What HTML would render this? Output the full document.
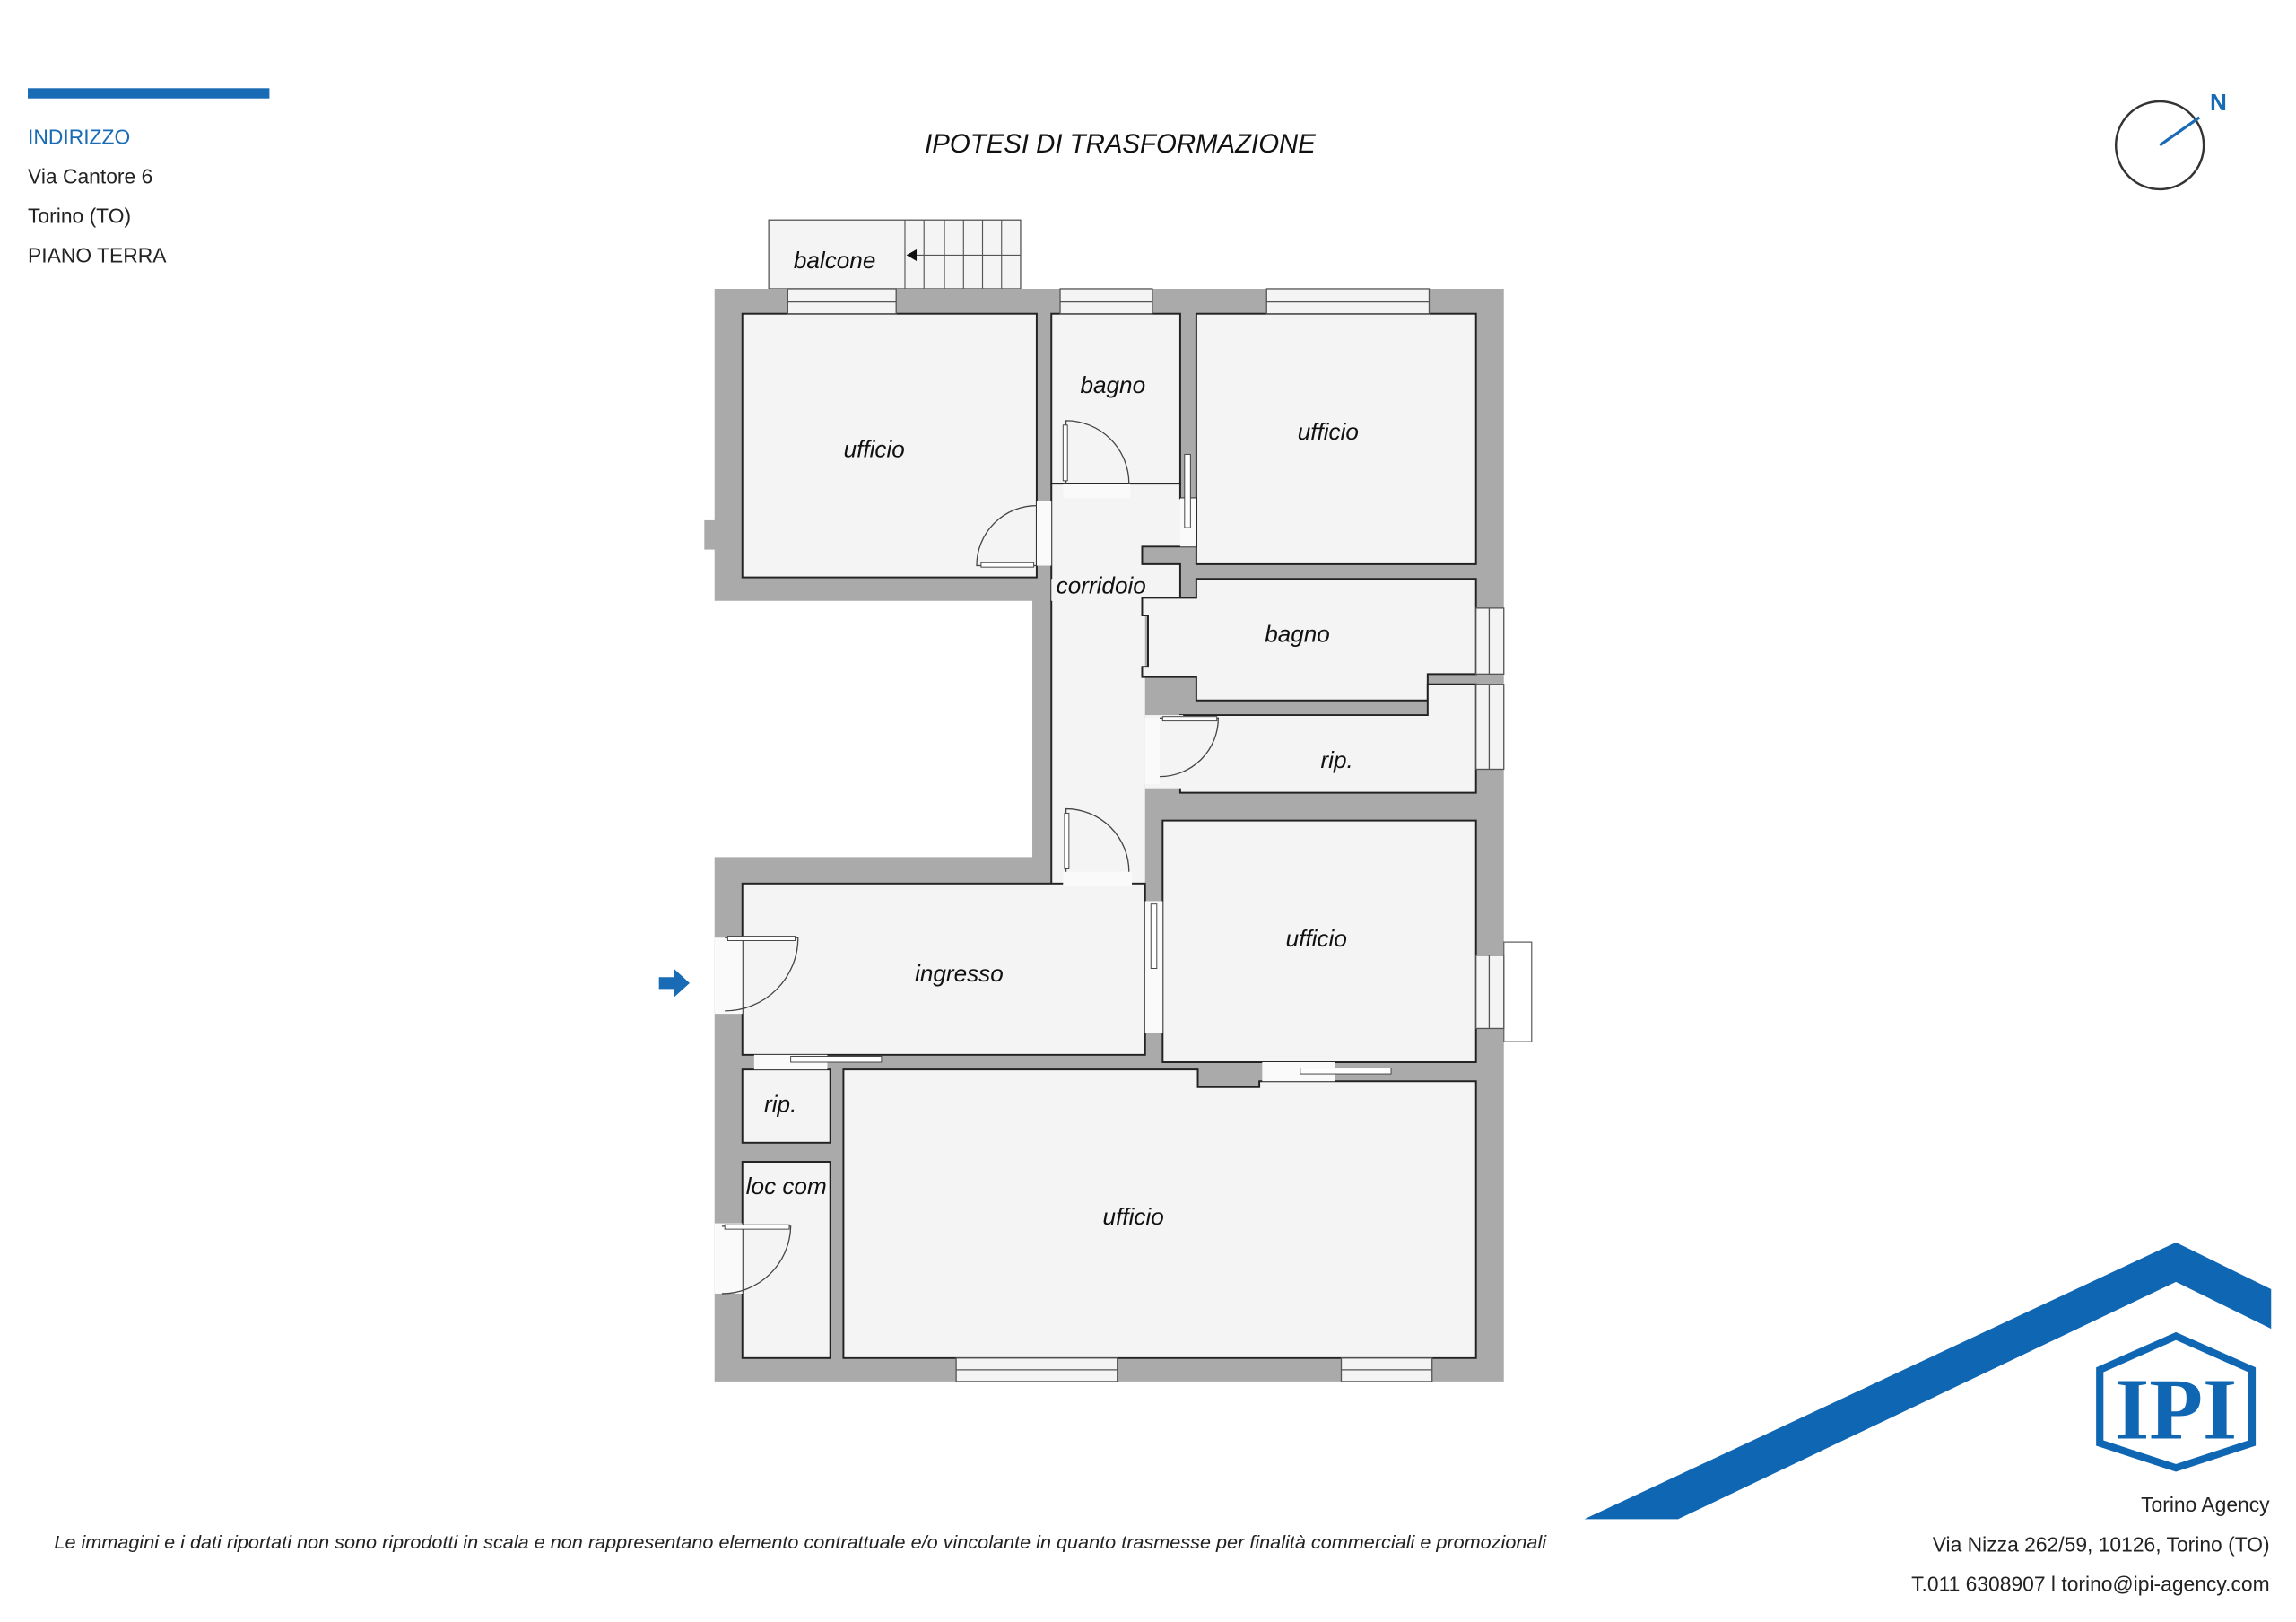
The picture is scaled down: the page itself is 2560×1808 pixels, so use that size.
<!DOCTYPE html>
<html><head><meta charset="utf-8"><style>
html,body{margin:0;padding:0;background:#fff}
svg{display:block}
text{font-family:"Liberation Sans",sans-serif}
.lab{font-style:italic;font-size:16px;fill:#111;text-anchor:middle}
.r{fill:#f4f4f4;stroke:#222;stroke-width:1.2}
.w{fill:#aaaaaa}
.win{fill:#f4f4f4;stroke:#555;stroke-width:0.8}
.gap{fill:#fafafa}
.dr{fill:none;stroke:#444;stroke-width:0.8}
</style></head><body>
<svg width="2560" height="1808" viewBox="0 0 1568 1107" xmlns="http://www.w3.org/2000/svg">
<rect x="0" y="0" width="1568" height="1107" fill="#fff"/>
<rect x="19" y="60" width="165" height="7" fill="#1a6bb5"/>
<text x="19" y="98" font-size="14" fill="#1a6bb5">INDIRIZZO</text>
<text x="19" y="125" font-size="14" fill="#222">Via Cantore 6</text>
<text x="19" y="152" font-size="14" fill="#222">Torino (TO)</text>
<text x="19" y="179" font-size="14" fill="#222">PIANO TERRA</text>
<text x="765" y="104" font-size="18" font-style="italic" text-anchor="middle" fill="#111">IPOTESI DI TRASFORMAZIONE</text>
<circle cx="1475" cy="99" r="30" fill="none" stroke="#333" stroke-width="1.5"/>
<line x1="1475" y1="99" x2="1502" y2="80" stroke="#1a6bb5" stroke-width="2"/>
<text x="1515" y="75" font-size="16" font-weight="bold" fill="#1a6bb5" text-anchor="middle">N</text>
<rect x="525" y="150" width="172" height="47" fill="#f4f4f4" stroke="#555" stroke-width="0.8"/>
<g stroke="#555" stroke-width="0.7">
<line x1="618" y1="150" x2="618" y2="197"/><line x1="631" y1="150" x2="631" y2="197"/><line x1="645" y1="150" x2="645" y2="197"/><line x1="658" y1="150" x2="658" y2="197"/><line x1="671" y1="150" x2="671" y2="197"/><line x1="684" y1="150" x2="684" y2="197"/>
<line x1="620" y1="174" x2="697" y2="174"/>
</g>
<polygon points="619,174 626,170 626,178" fill="#111"/>
<text x="570" y="183" class="lab">balcone</text>
<polygon class="w" points="488,197 1027,197 1027,943 488,943 488,585 705,585 705,410 488,410"/>
<rect x="481" y="355" width="8" height="20" class="w"/>
<rect x="1027" y="643" width="19" height="68" fill="#fff" stroke="#666" stroke-width="0.8"/>
<rect class="r" x="507" y="214" width="201" height="180"/>
<rect class="r" x="718" y="214" width="88" height="116"/>
<rect class="r" x="817" y="214" width="191" height="171"/>
<polygon class="r" points="718,330 806,330 806,340 817,340 817,373 780,373 780,385 806,385 806,410 718,410"/>
<rect x="718" y="395" width="64" height="210" fill="#f4f4f4"/>
<line x1="718" y1="410" x2="718" y2="603" stroke="#222" stroke-width="1.2"/>
<polygon class="r" points="817,395 1008,395 1008,460 975,460 975,478 817,478 817,462 780,462 780,455 784,455 784,420 780,420 780,408 817,408"/>
<polygon class="r" points="806,488 975,488 975,467 1008,467 1008,541 806,541"/>
<rect x="782" y="488" width="26" height="50" fill="#f4f4f4"/>
<rect class="r" x="794" y="560" width="214" height="165"/>
<rect class="r" x="507" y="603" width="275" height="117"/>
<rect class="r" x="507" y="730" width="60" height="50"/>
<rect class="r" x="507" y="793" width="60" height="134"/>
<polygon class="r" points="576,730 818,730 818,742 860,742 860,738 1008,738 1008,927 576,927"/>
<rect class="gap" x="708" y="342" width="10" height="44"/>
<rect class="gap" x="726" y="330" width="46" height="10"/>
<rect class="gap" x="806" y="340" width="11" height="33"/>
<rect class="gap" x="782" y="490" width="10" height="45"/>
<rect class="gap" x="726" y="595" width="47" height="10"/>
<rect class="gap" x="782" y="615" width="12" height="90"/>
<rect class="gap" x="488" y="640" width="19" height="52"/>
<rect class="gap" x="515" y="720" width="50" height="10"/>
<rect class="gap" x="488" y="835" width="19" height="48"/>
<rect class="gap" x="862" y="725" width="50" height="13"/>
<rect class="win" x="538" y="197" width="74" height="17"/><line x1="538" y1="206" x2="612" y2="206" stroke="#555" stroke-width="0.8"/>
<rect class="win" x="724" y="197" width="63" height="17"/><line x1="724" y1="206" x2="787" y2="206" stroke="#555" stroke-width="0.8"/>
<rect class="win" x="865" y="197" width="111" height="17"/><line x1="865" y1="206" x2="976" y2="206" stroke="#555" stroke-width="0.8"/>
<rect class="win" x="1008" y="415" width="19" height="45"/><line x1="1017" y1="415" x2="1017" y2="460" stroke="#555" stroke-width="0.8"/>
<rect class="win" x="1008" y="467" width="19" height="58"/><line x1="1017" y1="467" x2="1017" y2="525" stroke="#555" stroke-width="0.8"/>
<rect class="win" x="1008" y="652" width="19" height="50"/><line x1="1017" y1="652" x2="1017" y2="702" stroke="#555" stroke-width="0.8"/>
<rect class="win" x="653" y="927" width="110" height="16"/><line x1="653" y1="935" x2="763" y2="935" stroke="#555" stroke-width="0.8"/>
<rect class="win" x="916" y="927" width="62" height="16"/><line x1="916" y1="935" x2="978" y2="935" stroke="#555" stroke-width="0.8"/>
<path class="dr" d="M708,386 L667,386 A41,41 0 0 1 708,345"/><rect x="670" y="384" width="36" height="3" fill="#fff" stroke="#444" stroke-width="0.6"/>
<path class="dr" d="M728,330 L728,287 A43,43 0 0 1 771,330"/><rect x="726" y="290" width="3" height="38" fill="#fff" stroke="#444" stroke-width="0.6"/>
<rect x="809" y="310" width="4" height="50" fill="#fff" stroke="#444" stroke-width="0.6"/>
<path class="dr" d="M792,490 L832,490 A40,40 0 0 1 792,530"/><rect x="794" y="489" width="37" height="3" fill="#fff" stroke="#444" stroke-width="0.6"/>
<path class="dr" d="M728,595 L728,552 A43,43 0 0 1 771,595"/><rect x="727" y="555" width="3" height="38" fill="#fff" stroke="#444" stroke-width="0.6"/>
<rect x="786" y="617" width="4" height="44" fill="#fff" stroke="#444" stroke-width="0.6"/>
<path class="dr" d="M495,640 L545,640 A50,50 0 0 1 495,690"/><rect x="497" y="639" width="46" height="3" fill="#fff" stroke="#444" stroke-width="0.6"/>
<path class="dr" d="M493,837 L540,837 A47,47 0 0 1 493,883"/><rect x="495" y="836" width="44" height="3" fill="#fff" stroke="#444" stroke-width="0.6"/>
<rect x="540" y="721" width="62" height="4" fill="#fff" stroke="#444" stroke-width="0.6"/>
<rect x="888" y="729" width="62" height="4" fill="#fff" stroke="#444" stroke-width="0.6"/>
<text x="597" y="312" class="lab">ufficio</text>
<text x="760" y="268" class="lab">bagno</text>
<text x="907" y="300" class="lab">ufficio</text>
<text x="752" y="405" class="lab">corridoio</text>
<text x="886" y="438" class="lab">bagno</text>
<text x="913" y="524" class="lab">rip.</text>
<text x="899" y="646" class="lab">ufficio</text>
<text x="655" y="670" class="lab">ingresso</text>
<text x="533" y="759" class="lab">rip.</text>
<text x="537" y="815" class="lab">loc com</text>
<text x="774" y="836" class="lab">ufficio</text>
<polygon points="450,667 460,667 460,661 471,671 460,681 460,675 450,675" fill="#1a6bb5"/>
<polygon points="1082,1037 1486,848 1551,880 1551,907 1486,875 1146,1037" fill="#0f66b3"/>
<polygon points="1486,912 1538,935 1538,985 1486,1002 1434,985 1434,935" fill="#fff" stroke="#0f66b3" stroke-width="5"/>
<text x="1486" y="982" style="font-family:'Liberation Serif',serif;font-weight:bold" font-size="60" fill="#0f66b3" text-anchor="middle">IPI</text>
<text x="1550" y="1032" font-size="14" fill="#222" text-anchor="end">Torino Agency</text>
<text x="1550" y="1059" font-size="14" fill="#222" text-anchor="end">Via Nizza 262/59, 10126, Torino (TO)</text>
<text x="1550" y="1086" font-size="14" fill="#222" text-anchor="end">T.011 6308907 l torino@ipi-agency.com</text>
<text x="37" y="1057" font-size="12.3" font-style="italic" fill="#222" textLength="1019" lengthAdjust="spacingAndGlyphs">Le immagini e i dati riportati non sono riprodotti in scala e non rappresentano elemento contrattuale e/o vincolante in quanto trasmesse per finalità commerciali e promozionali</text>
</svg>
</body></html>
